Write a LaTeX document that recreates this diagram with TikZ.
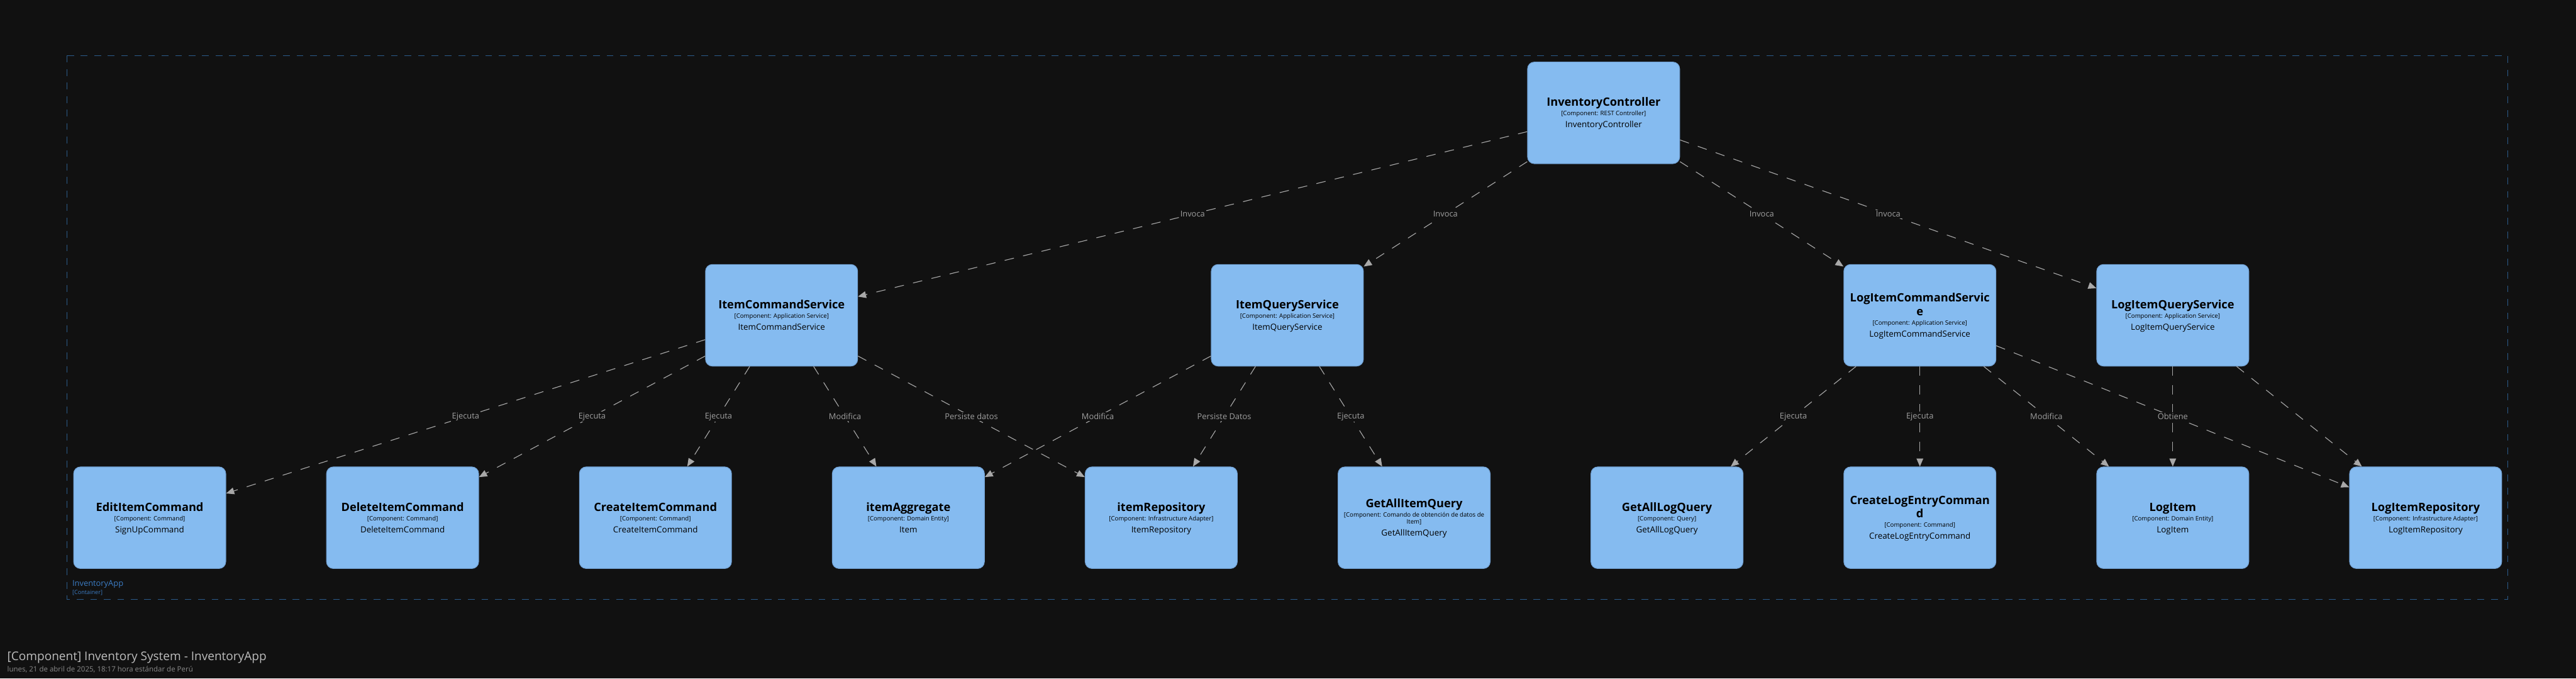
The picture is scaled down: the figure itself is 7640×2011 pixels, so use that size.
\documentclass[tikz,border=0pt]{standalone}
\usepackage{fontspec}
\setmainfont{Open Sans}
\usetikzlibrary{arrows.meta}
\definecolor{bg}{HTML}{111111}
\definecolor{compfill}{HTML}{85BBF0}
\definecolor{compdraw}{HTML}{73A3D6}
\definecolor{relgray}{HTML}{A8A8A8}
\definecolor{lblgray}{HTML}{A0A0A0}
\definecolor{bndline}{HTML}{2B5B8A}
\definecolor{bndtext}{HTML}{3B7CC4}
\definecolor{titlegray}{HTML}{BDBDBD}
\definecolor{dategray}{HTML}{8A8A8A}
\newcommand{\namefnt}{\fontsize{9.67pt}{11pt}\bfseries\selectfont}
\newcommand{\techfnt}{\fontsize{5.12pt}{6pt}\selectfont}
\newcommand{\descfnt}{\fontsize{7.11pt}{8.5pt}\selectfont}
\newcommand{\lblfnt}{\fontsize{6.83pt}{8pt}\selectfont}
\newcommand{\nstr}{\vrule height 0.31cm depth 0.09cm width 0pt}
\newcommand{\tstr}{\vrule height 0.19cm depth 0.05cm width 0pt}
\newcommand{\dstr}{\vrule height 0.30cm depth 0.07cm width 0pt}
\newcommand{\comp}[3]{\namefnt\nstr #1\\\techfnt\tstr[#2]\\\descfnt\dstr #3}
\newcommand{\nbr}{\\\namefnt\nstr}
\newcommand{\tbr}{\\[-0.04cm]\techfnt\tstr}
\tikzset{compbox/.style={rectangle, rounded corners=0.2cm, draw=compdraw, line width=0.6pt,
      fill=compfill, text=black, minimum width=4.51cm, minimum height=3.01cm,
      inner sep=0pt, align=center, font=\offinterlineskip}}
\tikzset{rel/.style={draw=relgray, line width=0.6pt, dash pattern=on 0.28cm off 0.28cm,
      -{Triangle[length=0.24cm,width=0.2cm]}}}
\tikzset{rellbl/.style={midway, fill=bg, inner sep=1pt, text=lblgray, font=\lblfnt}}

\begin{document}
\begin{tikzpicture}[x=0.1mm,y=-0.1mm]
    \useasboundingbox (0,0) rectangle (7640,2011);
    \fill[bg] (0,0) rectangle (7640,2011);
    \draw[bndline, line width=0.5pt, dash pattern=on 0.2cm off 0.2cm] (199,165) rectangle (7438,1776);
    \node[anchor=base west, text=bndtext, font=\fontsize{6.83pt}{8pt}\selectfont, inner sep=0pt] (appname) at (214,1737) {InventoryApp};
    \node[anchor=base west, text=bndtext, font=\fontsize{4.84pt}{6pt}\selectfont, inner sep=0pt] (apptype) at (214,1761) {[Container]};

    \node[compbox] (ctrl) at (4756,334.5) {\comp{InventoryController}{Component: REST Controller}{InventoryController}};

    \node[compbox] (itemcmd) at (2318,934.5) {\comp{ItemCommandService}{Component: Application Service}{ItemCommandService}};
    \node[compbox] (itemqry) at (3818,934.5) {\comp{ItemQueryService}{Component: Application Service}{ItemQueryService}};
    \node[compbox] (logcmd) at (5694,934.5) {\comp{LogItemCommandServic\nbr e}{Component: Application Service}{LogItemCommandService}};
    \node[compbox] (logqry) at (6444,934.5) {\comp{LogItemQueryService}{Component: Application Service}{LogItemQueryService}};

    \node[compbox] (edit) at (444,1534.5) {\comp{EditItemCommand}{Component: Command}{SignUpCommand}};
    \node[compbox] (delete) at (1194,1534.5) {\comp{DeleteItemCommand}{Component: Command}{DeleteItemCommand}};
    \node[compbox] (create) at (1944,1534.5) {\comp{CreateItemCommand}{Component: Command}{CreateItemCommand}};
    \node[compbox] (aggr) at (2694,1534.5) {\comp{itemAggregate}{Component: Domain Entity}{Item}};
    \node[compbox] (repo) at (3444,1534.5) {\comp{itemRepository}{Component: Infrastructure Adapter}{ItemRepository}};
    \node[compbox] (getitem) at (4194,1534.5) {\comp{GetAllItemQuery}{Component: Comando de obtención de datos de\tbr Item}{GetAllItemQuery}};
    \node[compbox] (getlog) at (4944,1534.5) {\comp{GetAllLogQuery}{Component: Query}{GetAllLogQuery}};
    \node[compbox] (createlog) at (5694,1534.5) {\comp{CreateLogEntryComman\nbr d}{Component: Command}{CreateLogEntryCommand}};
    \node[compbox] (logitem) at (6444,1534.5) {\comp{LogItem}{Component: Domain Entity}{LogItem}};
    \node[compbox] (logrepo) at (7194,1534.5) {\comp{LogItemRepository}{Component: Infrastructure Adapter}{LogItemRepository}};

    \draw[rel] (ctrl) -- node[rellbl]{Invoca} (itemcmd);
    \draw[rel] (ctrl) -- node[rellbl]{Invoca} (itemqry);
    \draw[rel] (ctrl) -- node[rellbl]{Invoca} (logcmd);
    \draw[rel] (ctrl) -- node[rellbl]{Invoca} (logqry);

    \draw[rel] (itemcmd) -- node[rellbl]{Ejecuta} (edit);
    \draw[rel] (itemcmd) -- node[rellbl]{Ejecuta} (delete);
    \draw[rel] (itemcmd) -- node[rellbl]{Ejecuta} (create);
    \draw[rel] (itemcmd) -- node[rellbl]{Modifica} (aggr);
    \draw[rel] (itemcmd) -- node[rellbl]{Persiste datos} (repo);

    \draw[rel] (itemqry) -- node[rellbl]{Modifica} (aggr);
    \draw[rel] (itemqry) -- node[rellbl]{Persiste Datos} (repo);
    \draw[rel] (itemqry) -- node[rellbl]{Ejecuta} (getitem);

    \draw[rel] (logcmd) -- node[rellbl]{Ejecuta} (getlog);
    \draw[rel] (logcmd) -- node[rellbl]{Ejecuta} (createlog);
    \draw[rel] (logcmd) -- node[rellbl]{Modifica} (logitem);
    \draw[rel] (logcmd) -- (logrepo);

    \draw[rel] (logqry) -- node[rellbl]{Obtiene} (logitem);
    \draw[rel] (logqry) -- (logrepo);

    \node[anchor=base west, text=titlegray, font=\fontsize{10.1pt}{12pt}\selectfont, inner sep=0pt] (title) at (21,1958) {[Component] Inventory System - InventoryApp};
    \node[anchor=base west, text=dategray, font=\fontsize{6.1pt}{7pt}\selectfont, inner sep=0pt] (date) at (21,1992) {lunes, 21 de abril de 2025, 18:17 hora estándar de Perú};
  \end{tikzpicture}
\end{document}
